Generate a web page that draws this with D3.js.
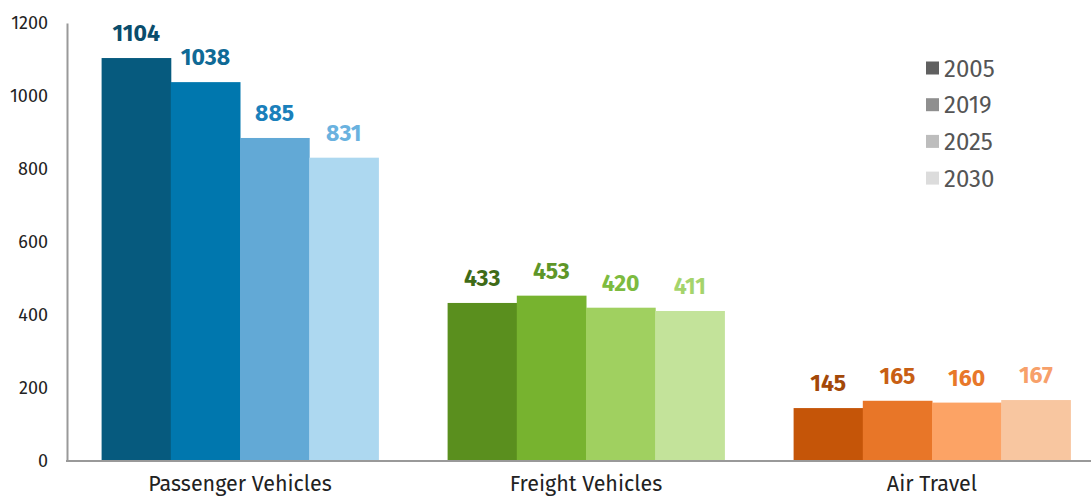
<!DOCTYPE html>
<html>
<head>
<meta charset="utf-8">
<script src="https://cdn.jsdelivr.net/npm/d3@7"></script>
<style>
  body { margin: 0; background: #fff; }
  text { font-family: "Fira Sans", "Noto Sans", sans-serif; }
</style>
</head>
<body>
<svg width="1091" height="498"></svg>
<script>
var categories = ['Passenger Vehicles', 'Freight Vehicles', 'Air Travel']
var years = ['2005', '2019', '2025', '2030']
var values2005 = [1104, 433, 145]
var values2019 = [1038, 453, 165]
var values2025 = [885, 420, 160]
var values2030 = [831, 411, 167]
var yTicks = [0, 200, 400, 600, 800, 1000, 1200]

// bar colours per category, one per year
var barColors = [
    ['#065a7e', '#0077ae', '#62a9d6', '#add8f0'],
    ['#5a8f1e', '#77b32f', '#a0d060', '#c3e39a'],
    ['#c55508', '#e87628', '#fca365', '#f8c6a0']
]
var labelColors = [
    ['#0a4d6c', '#0f6a96', '#1a80bb', '#6ab2df'],
    ['#3f6b17', '#5e9628', '#7dbb3f', '#a5d46b'],
    ['#a34808', '#c85f14', '#e8782a', '#f7a06a']
]
var legendColors = ['#606060', '#8f8f8f', '#bdbdbd', '#dcdcdc']

var series = [values2005, values2019, values2025, values2030]
var data = []
categories.forEach(function(c, ci) {
    years.forEach(function(y, yi) {
        data.push({cat: c, ci: ci, year: y, yi: yi, value: series[yi][ci]})
    })
})

var svg = d3.select('svg')

var x0 = d3.scaleBand()
    .domain(categories)
    .range([67, 1105])
    .paddingInner(0.2)
    .paddingOuter(0.1)

var x1 = d3.scaleBand()
    .domain(years)
    .range([0, x0.bandwidth()])

var y = d3.scaleLinear()
    .domain([0, 1200])
    .range([461, 23])

// bars
svg.selectAll('rect.bar')
    .data(data)
    .enter()
    .append('rect')
    .attr('class', 'bar')
    .attr('x', function(d) { return x0(d.cat) + x1(d.year) })
    .attr('y', function(d) { return y(d.value) })
    .attr('width', x1.bandwidth() + 0.5)
    .attr('height', function(d) { return y(0) - y(d.value) })
    .attr('fill', function(d) { return barColors[d.ci][d.yi] })

// value labels
svg.selectAll('text.val')
    .data(data)
    .enter()
    .append('text')
    .attr('class', 'val')
    .attr('x', function(d) { return x0(d.cat) + x1(d.year) + x1.bandwidth() / 2 })
    .attr('y', function(d) { return y(d.value) - 17 })
    .attr('text-anchor', 'middle')
    .style('font-size', '23px')
    .style('font-weight', 'bold')
    .attr('fill', function(d) { return labelColors[d.ci][d.yi] })
    .text(function(d) { return d.value })

// y axis
var yAxis = d3.axisLeft(y).tickValues(yTicks).tickFormat(d3.format('d')).tickSize(0).tickPadding(19)
var gy = svg.append('g')
    .attr('transform', 'translate(67,0)')
    .call(yAxis)
gy.select('.domain').attr('stroke', '#999').attr('stroke-width', 2)
gy.selectAll('text').style('font-size', '18px').attr('fill', '#222')

// x axis
var xAxis = d3.axisBottom(x0).tickSize(0).tickPadding(15)
var gx = svg.append('g')
    .attr('transform', 'translate(0,461)')
    .call(xAxis)
gx.select('.domain').attr('d', 'M66,0H1091').attr('stroke', '#999').attr('stroke-width', 2)
gx.selectAll('text').style('font-size', '21.5px').attr('fill', '#222')

// legend
var legend = svg.selectAll('g.legend')
    .data(years)
    .enter()
    .append('g')
    .attr('class', 'legend')
    .attr('transform', function(d, i) { return 'translate(926,' + (68 + i * 36.7) + ')' })
legend.append('rect')
    .attr('x', 0).attr('y', -6.5)
    .attr('width', 13).attr('height', 13)
    .attr('fill', function(d, i) { return legendColors[i] })
legend.append('text')
    .attr('x', 18).attr('y', 0)
    .attr('dy', '0.36em')
    .style('font-size', '24px')
    .attr('fill', '#555')
    .text(function(d) { return d })
</script>
</body>
</html>
